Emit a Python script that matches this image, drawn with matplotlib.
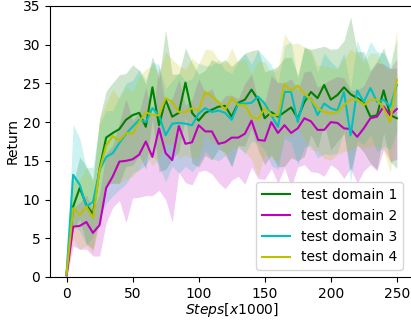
import numpy as np
import matplotlib
matplotlib.use('Agg')
import matplotlib.pyplot as plt

# steps in units of 1000
steps = list(range(0, 251, 5))

# mean return per domain
d1_mean = [0.3, 9.1, 11.5, 9.3, 8.1, 14.0, 18.0, 18.6, 19.1, 20.3,
           20.9, 21.2, 19.4, 24.5, 19.6, 22.9, 20.7, 21.2, 25.1, 21.2,
           20.2, 21.2, 21.6, 22.0, 22.1, 20.7, 22.5, 22.9, 24.2, 22.9,
           20.5, 21.3, 20.7, 21.3, 21.9, 20.5, 22.6, 23.9, 23.1, 24.8,
           22.9, 23.5, 24.5, 23.6, 23.1, 22.6, 20.7, 20.9, 24.1, 20.9,
           20.5]
d2_mean = [0.2, 6.5, 6.6, 7.1, 5.7, 6.7, 11.5, 13.0, 14.9, 15.0,
           15.2, 15.8, 17.5, 15.5, 19.2, 16.0, 15.1, 19.5, 17.2, 17.4,
           19.6, 18.8, 18.8, 17.2, 17.4, 18.0, 18.0, 18.5, 20.2, 17.7,
           17.6, 20.0, 18.6, 19.6, 18.6, 19.2, 20.5, 20.1, 19.0, 19.0,
           20.0, 19.9, 19.2, 19.1, 18.1, 19.2, 20.5, 20.7, 22.0, 20.9,
           21.7]
d3_mean = [0.5, 13.2, 11.9, 9.1, 9.7, 13.8, 15.5, 16.0, 17.3, 18.5,
           19.4, 20.3, 20.0, 21.8, 20.9, 18.3, 19.8, 19.9, 19.8, 19.6,
           21.1, 21.8, 21.3, 21.5, 21.2, 20.3, 22.4, 22.4, 22.5, 23.3,
           22.4, 20.9, 19.4, 23.9, 23.9, 20.0, 23.3, 23.0, 20.9, 22.4,
           21.8, 21.5, 23.9, 18.3, 24.1, 22.6, 24.4, 22.6, 22.9, 22.0,
           24.8]
d4_mean = [0.3, 8.9, 8.0, 9.1, 7.6, 13.8, 17.0, 18.2, 17.6, 18.6,
           18.5, 20.0, 21.3, 20.9, 20.9, 23.1, 22.6, 21.3, 21.3, 21.8,
           21.5, 23.9, 23.3, 22.6, 21.6, 23.1, 22.2, 22.2, 20.7, 20.4,
           21.8, 20.9, 20.9, 24.9, 24.1, 24.7, 23.7, 22.9, 21.8, 21.3,
           21.1, 21.3, 22.2, 22.9, 22.9, 22.2, 22.9, 22.9, 21.8, 20.0,
           25.5]

# spread (half width of the shaded band)
d1_std = [0.5, 3.0, 4.0, 5.0, 4.5, 6.5, 6.0, 6.5, 7.0, 6.0,
          6.5, 5.5, 5.5, 4.0, 6.0, 9.0, 5.5, 5.0, 4.5, 6.5,
          6.0, 5.5, 6.5, 5.5, 6.0, 6.5, 5.5, 6.0, 5.0, 6.5,
          6.0, 5.5, 6.5, 7.0, 6.5, 5.5, 7.0, 5.5, 6.5, 5.0,
          6.5, 6.0, 6.0, 10.0, 6.0, 6.5, 6.0, 7.0, 5.5, 6.0,
          6.5]
d2_std = [0.5, 2.5, 3.0, 3.5, 3.0, 4.0, 4.5, 4.0, 5.0, 8.0,
          5.0, 5.5, 7.0, 5.0, 8.0, 6.0, 8.0, 6.0, 5.0, 5.5,
          6.0, 5.0, 5.5, 5.0, 6.0, 5.5, 5.0, 6.5, 6.0, 5.0,
          5.0, 6.0, 6.5, 5.5, 7.0, 5.0, 6.0, 6.5, 5.5, 6.0,
          5.5, 6.0, 6.5, 5.0, 6.0, 5.5, 6.0, 7.0, 5.5, 6.0,
          6.5]
d3_std = [0.5, 6.5, 6.0, 5.0, 4.5, 6.0, 6.0, 5.5, 6.0, 6.5,
          6.0, 6.5, 5.5, 6.0, 6.5, 6.0, 5.5, 6.5, 5.5, 6.0,
          6.5, 5.5, 6.0, 6.5, 5.5, 6.0, 5.5, 6.5, 5.0, 6.0,
          6.0, 6.5, 5.5, 6.0, 6.5, 5.5, 6.5, 6.0, 5.5, 6.5,
          6.0, 5.5, 5.0, 6.0, 6.5, 5.5, 6.0, 6.5, 6.0, 5.5,
          6.0]
d4_std = [0.5, 4.0, 4.5, 5.0, 4.5, 6.5, 5.5, 6.0, 5.5, 6.0,
          5.5, 6.0, 5.5, 6.5, 5.5, 6.0, 5.5, 6.0, 5.5, 6.5,
          6.0, 5.5, 6.0, 5.5, 6.0, 6.5, 5.5, 6.0, 5.5, 7.5,
          6.0, 5.5, 6.0, 6.5, 6.0, 5.5, 6.0, 6.5, 5.5, 6.0,
          6.0, 5.5, 6.0, 6.5, 6.0, 5.5, 6.0, 6.0, 5.5, 6.5,
          6.5]

labels = ['test domain 1', 'test domain 2', 'test domain 3', 'test domain 4']
colors = ['g', 'm', 'c', 'y']
means = [d1_mean, d2_mean, d3_mean, d4_mean]
stds = [d1_std, d2_std, d3_std, d4_std]

fig = plt.figure(figsize=(4.11, 3.22), dpi=100)
# right spine sits just past the image edge, as in the reference
ax = fig.add_axes([0.1217, 0.1398, 0.884, 0.8416])

x = np.array(steps)
for m, s, c, lab in zip(means, stds, colors, labels):
    m = np.array(m)
    s = np.array(s)
    ax.fill_between(x, m - s, m + s, color=c, alpha=0.2, linewidth=0)
    ax.plot(x, m, color=c, label=lab)

ax.set_xlim(-12.5, 262.5)
ax.set_ylim(0, 35)
ax.set_xticks([0, 50, 100, 150, 200, 250])
ax.set_yticks(range(0, 36, 5))
ax.set_xlabel('$Steps[x1000]$', labelpad=0.5)
ax.set_ylabel('Return', labelpad=2)
ax.legend(loc='lower right', bbox_to_anchor=(0.99, 0.0))

plt.savefig('out.png', dpi=100)
